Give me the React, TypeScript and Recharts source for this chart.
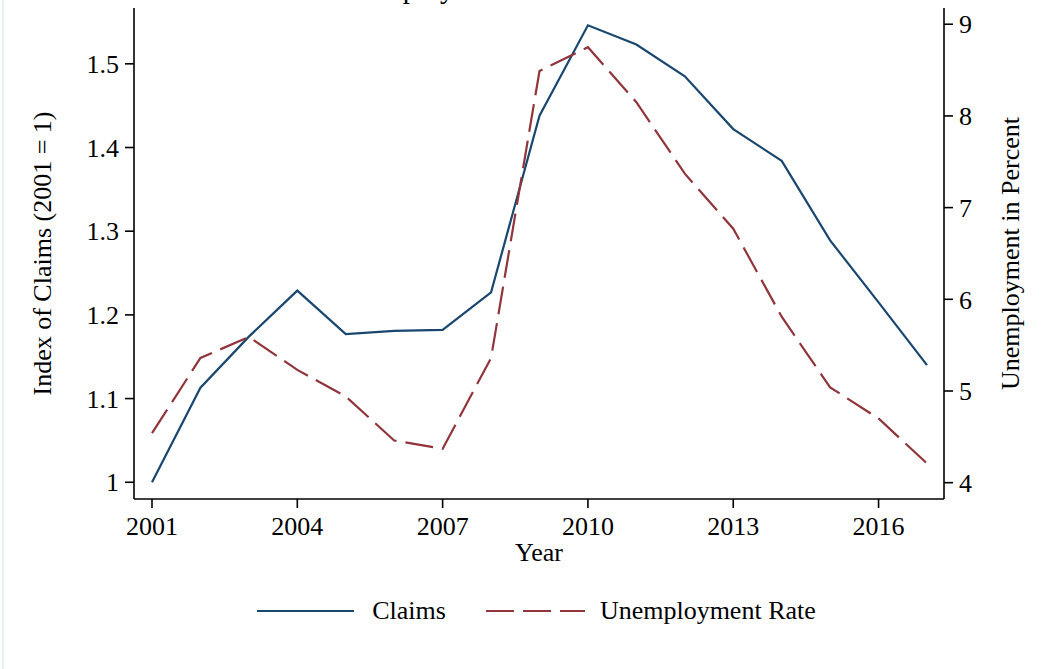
import React from "react";
import {
  LineChart, Line, XAxis, YAxis, Legend, Label, Customized,
} from "recharts";

const years = [2001, 2002, 2003, 2004, 2005, 2006, 2007, 2008, 2009, 2010, 2011, 2012, 2013, 2014, 2015, 2016, 2017];
const claimsIndex = [1.0, 1.113, 1.174, 1.229, 1.177, 1.181, 1.182, 1.227, 1.438, 1.546, 1.523, 1.485, 1.422, 1.384, 1.289, 1.215, 1.14];
const unemploymentRate = [4.54, 5.36, 5.59, 5.23, 4.94, 4.46, 4.37, 5.36, 8.49, 8.75, 8.15, 7.37, 6.77, 5.81, 5.04, 4.7, 4.21];

const yearTicks = [2001, 2004, 2007, 2010, 2013, 2016];
const claimsTicks = [1, 1.1, 1.2, 1.3, 1.4, 1.5];
const rateTicks = [4, 5, 6, 7, 8, 9];

const data = years.map((year, i) => ({ year, claims: claimsIndex[i], rate: unemploymentRate[i] }));

const FONT = '"Liberation Serif", "Times New Roman", serif';
const NAVY = "#1a476f";
const MAROON = "#90353b";
const DASH = "28 9";
const tickStyle = { fill: "#000", fontSize: 26, fontFamily: FONT };
const axisLine = { stroke: "#000", strokeWidth: 1.6 };
const tickLine = { stroke: "#000", strokeWidth: 1.6 };

function VerticalTitle({ viewBox, text, dx }: any) {
  const cx = viewBox.x + dx;
  const cy = viewBox.y + viewBox.height / 2;
  return (
    <text x={cx} y={cy} transform={`rotate(-90 ${cx} ${cy})`} textAnchor="middle"
      dominantBaseline="central" fontSize={26} fontFamily={FONT} fill="#000">
      {text}
    </text>
  );
}

function YearTitle({ viewBox }: any) {
  return (
    <text x={viewBox.x + viewBox.width / 2} y={viewBox.y + 62} textAnchor="middle"
      fontSize={26} fontFamily={FONT} fill="#000">
      Year
    </text>
  );
}

function renderLegend() {
  return (
    <div style={{ height: 79, boxSizing: "border-box", paddingLeft: 28, paddingTop: 6 }}>
      <div style={{ height: 30, display: "flex", justifyContent: "center", alignItems: "center",
        fontFamily: FONT, fontSize: 26, color: "#000" }}>
        <svg width={97} height={4} style={{ marginRight: 18 }}>
          <line x1={0} y1={2} x2={97} y2={2} stroke={NAVY} strokeWidth={2.2} />
        </svg>
        <span>Claims</span>
        <svg width={99} height={4} style={{ marginLeft: 40, marginRight: 15 }}>
          <line x1={0} y1={2} x2={99} y2={2} stroke={MAROON} strokeWidth={2.2} strokeDasharray={DASH} />
        </svg>
        <span>Unemployment Rate</span>
      </div>
    </div>
  );
}

// title sits above the frame; only its descenders show at the top edge, as in the source
const CutTitle = () => (
  <text x={332} y={-2} fontSize={29} fontFamily={FONT} fill="#000">Unemployment Insurance Claims</text>
);

export default function App() {
  return (
    <div style={{ position: "absolute", left: 0, top: 0, width: 1045, height: 669, background: "#fff" }}>
      <div style={{ position: "absolute", left: 2, top: 0, width: 2, height: 669, background: "#eaf1f4" }} />
      <LineChart width={1045} height={669} data={data} margin={{ top: 8, right: 0, bottom: 0, left: 0 }}>
        <XAxis dataKey="year" type="number" domain={[2001, 2017]} ticks={yearTicks}
          padding={{ left: 18, right: 17 }} height={91} tickSize={9} tickMargin={9}
          tick={tickStyle} axisLine={axisLine} tickLine={tickLine} interval={0}>
          <Label content={<YearTitle />} />
        </XAxis>
        <YAxis yAxisId="left" orientation="left" width={134} domain={[0.98, 1.5667]} allowDataOverflow
          ticks={claimsTicks} tickFormatter={(v: number) => String(v)} tickSize={9} tickMargin={6}
          tick={tickStyle} axisLine={axisLine} tickLine={tickLine} interval={0}>
          <Label content={<VerticalTitle text="Index of Claims (2001 = 1)" dx={42} />} />
        </YAxis>
        <YAxis yAxisId="right" orientation="right" width={101} domain={[3.822, 9.177]} allowDataOverflow
          ticks={rateTicks} tickSize={9} tickMargin={6}
          tick={tickStyle} axisLine={axisLine} tickLine={tickLine} interval={0}>
          <Label content={<VerticalTitle text="Unemployment in Percent" dx={66} />} />
        </YAxis>
        <Line yAxisId="left" type="linear" dataKey="claims" name="Claims" stroke={NAVY} strokeWidth={2.2}
          dot={false} activeDot={false} isAnimationActive={false} />
        <Line yAxisId="right" type="linear" dataKey="rate" name="Unemployment Rate" stroke={MAROON} strokeWidth={2.2}
          strokeDasharray={DASH} dot={false} activeDot={false} isAnimationActive={false} />
        <Legend verticalAlign="bottom" content={renderLegend} />
        <Customized component={CutTitle} />
      </LineChart>
    </div>
  );
}
